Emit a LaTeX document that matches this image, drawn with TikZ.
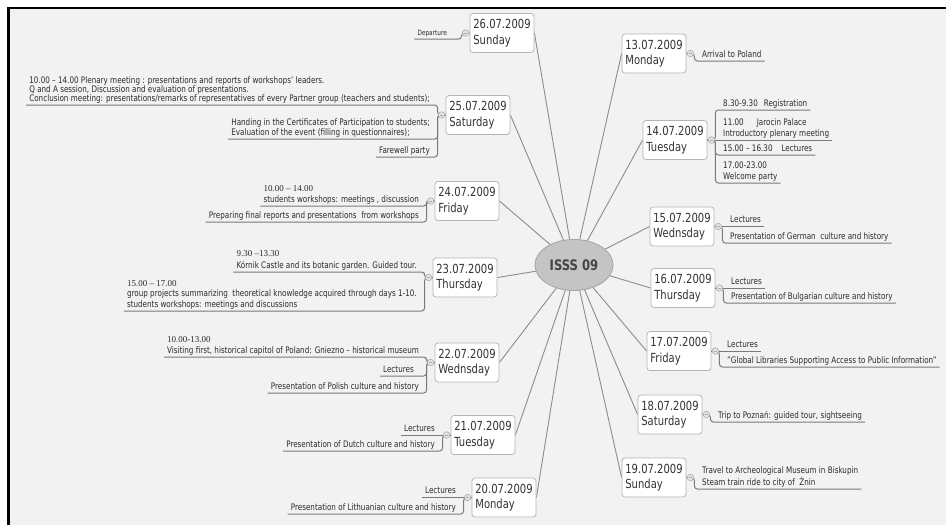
\documentclass[tikz,border=0pt]{standalone}
\usepackage{fontspec}
\setmainfont[FakeStretch=0.8]{DejaVu Sans}
\newfontfamily\tmfont{Liberation Serif}
\usetikzlibrary{shapes.geometric,backgrounds}
\definecolor{bgc}{HTML}{F2F2F2}
\definecolor{boxline}{HTML}{B5B5B5}
\definecolor{datetxt}{HTML}{333333}
\definecolor{itemtxt}{HTML}{2B2B2B}
\definecolor{spokec}{HTML}{8C8C8C}
\definecolor{branchc}{HTML}{7A7A7A}
\definecolor{ellfill}{HTML}{C4C4C4}
\definecolor{elldraw}{HTML}{A6A6A6}
\definecolor{elltxt}{HTML}{444444}
\definecolor{knobfill}{HTML}{E4E4E4}
\definecolor{knobline}{HTML}{ABABAB}
\tikzset{
  datebox/.style={draw=boxline, line width=0.8pt, fill=white, rounded corners=3pt, align=left,
    text=datetxt, font=\fontsize{12.5}{15.5}\selectfont, minimum width=64pt, minimum height=39pt,
    inner xsep=3pt, inner ysep=2pt},
  itemnode/.style={align=left, text=itemtxt, font=\fontsize{9}{10.5}\selectfont,
    inner xsep=3pt, inner ysep=1.5pt, text depth=2pt},
  ritem/.style={itemnode, anchor=south west},
  litem/.style={itemnode, anchor=south east},
  spoke/.style={draw=spokec, line width=0.9pt},
  branch/.style={draw=branchc, line width=1pt, rounded corners=3pt},
  knob/.style={circle, draw=knobline, fill=knobfill, line width=0.6pt, inner sep=0pt,
    minimum size=6.5pt,
    path picture={\draw[knobline, line width=0.6pt]
      ([xshift=-1.6pt]path picture bounding box.center) --
      ([xshift=1.6pt]path picture bounding box.center);}},
  central/.style={ellipse, draw=elldraw, line width=0.9pt, fill=ellfill, minimum width=78pt,
    minimum height=51pt, inner sep=0pt, text=elltxt, font=\fontsize{14.5}{17}\selectfont\bfseries}
}
\begin{document}
\begin{tikzpicture}[x=1pt,y=-1pt]
\useasboundingbox (0,0) rectangle (946,525);
% central topic
\node[central] (c) at (574,265) {ISSS 09};
% date boxes, left
\node[datebox] (d26) at (502,33) {26.07.2009\\Sunday};
\node[datebox] (d25) at (478,115) {25.07.2009\\Saturday};
\node[datebox] (d24) at (467,201) {24.07.2009\\Friday};
\node[datebox] (d23) at (465,277.5) {23.07.2009\\Thursday};
\node[datebox] (d22) at (467,362.5) {22.07.2009\\Wednsday};
\node[datebox] (d21) at (483,435) {21.07.2009\\Tuesday};
\node[datebox] (d20) at (504,497.5) {20.07.2009\\Monday};
% date boxes, right
\node[datebox] (d13) at (654,53.5) {13.07.2009\\Monday};
\node[datebox] (d14) at (675,140) {14.07.2009\\Tuesday};
\node[datebox] (d15) at (682,226.5) {15.07.2009\\Wednsday};
\node[datebox] (d16) at (683,288) {16.07.2009\\Thursday};
\node[datebox] (d17) at (679,351) {17.07.2009\\Friday};
\node[datebox] (d18) at (670,414.5) {18.07.2009\\Saturday};
\node[datebox] (d19) at (654,477.5) {19.07.2009\\Sunday};
% items, right side
\node[ritem] (i13) at (699,61) {Arrival to Poland};
\node[ritem] (i14a) at (720,110) {8.30-9.30\hspace{6pt}Registration};
\node[ritem] (i14b) at (720,140) {11.00\hspace{13pt}Jarocin Palace\\Introductory plenary meeting};
\node[ritem] (i14c) at (720,155) {15.00 – 16.30\hspace{9pt}Lectures};
\node[ritem] (i14d) at (720,183) {17.00-23.00\\Welcome party};
\node[ritem] (i15a) at (727,226.5) {Lectures};
\node[ritem] (i15b) at (727,243) {Presentation of German~ culture and history};
\node[ritem] (i16a) at (728,288) {Lectures};
\node[ritem] (i16b) at (728,303) {Presentation of Bulgarian culture and history};
\node[ritem] (i17a) at (724,351) {Lectures};
\node[ritem] (i17b) at (724,367) {"Global Libraries Supporting Access to Public Information"};
\node[ritem] (i18) at (715,422) {Trip to Poznań: guided tour, sightseeing};
\node[ritem, font=\fontsize{9}{12}\selectfont] (i19) at (699,489) {Travel to Archeological Museum in Biskupin\\Steam train ride to city of~ Żnin};
% items, left side
\node[litem, font=\fontsize{7.2}{9}\selectfont] (i26) at (450,39) {Departure};
\node[litem, font=\fontsize{9}{9}\selectfont] (i25a) at (433,105) {10.00 – 14.00 Plenary meeting : presentations and reports of workshops' leaders.\\Q and A session, Discussion and evaluation of presentations.\\Conclusion meeting: presentations/remarks of representatives of every Partner group (teachers and students);};
\node[litem, font=\fontsize{9}{9.8}\selectfont] (i25b) at (433,139) {Handing in the Certificates of Participation to students;\\Evaluation of the event (filling in questionnaires);};
\node[litem] (i25c) at (433,157) {Farewell party};
\node[litem] (i24a) at (422,206) {{\tmfont 10.00 – 14.00}\\students workshops: meetings , discussion};
\node[litem] (i24b) at (422,222) {Preparing final reports and presentations~ from workshops};
\node[litem, font=\fontsize{9}{11.5}\selectfont] (i23a) at (420,272) {{\tmfont 9.30 –13.30}\\Kórnik Castle and its botanic garden. Guided tour.};
\node[litem] (i23b) at (420,311) {{\tmfont 15.00 – 17.00}\\group projects summarizing~ theoretical knowledge acquired through days 1-10.\\students workshops: meetings and discussions};
\node[litem] (i22a) at (422,357) {{\tmfont 10.00-13.00}\\Visiting first, historical capitol of Poland: Gniezno – historical museum};
\node[litem] (i22b) at (417,376) {Lectures};
\node[litem] (i22c) at (422,393) {Presentation of Polish culture and history};
\node[litem] (i21a) at (438,435) {Lectures};
\node[litem] (i21b) at (438,451) {Presentation of Dutch culture and history};
\node[litem] (i20a) at (459,497.5) {Lectures};
\node[litem] (i20b) at (459,514) {Presentation of Lithuanian culture and history};
% background and spokes
\begin{scope}[on background layer]
  \fill[white] (0,0) rectangle (946,525);
  \fill[bgc] (8,8) rectangle (946,525);
  \draw[line width=3pt] (8,6.5) -- (8,525);
  \draw[line width=2.5pt] (6.5,8) -- (946,8);
  \draw[spoke] (c) -- (d26.east);
  \draw[spoke] (c) -- (d25.east);
  \draw[spoke] (c) -- (d24.east);
  \draw[spoke] (c) -- (d23.east);
  \draw[spoke] (c) -- (d22.east);
  \draw[spoke] (c) -- (d21.east);
  \draw[spoke] (c) -- (d20.east);
  \draw[spoke] (c) -- (d13.west);
  \draw[spoke] (c) -- (d14.west);
  \draw[spoke] (c) -- (d15.west);
  \draw[spoke] (c) -- (d16.west);
  \draw[spoke] (c) -- (d17.west);
  \draw[spoke] (c) -- (d18.west);
  \draw[spoke] (c) -- (d19.west);
\end{scope}
% branches, right
\draw[branch] (d13.east) -- ++(8,0) |- (i13.south east);
\draw[branch] (d14.east) -- ++(8,0) |- (i14a.south east);
\draw[branch] (d14.east) -- (i14b.south east);
\draw[branch] (d14.east) -- ++(8,0) |- (i14c.south east);
\draw[branch] (d14.east) -- ++(8,0) |- (i14d.south east);
\draw[branch] (d15.east) -- (i15a.south east);
\draw[branch] (d15.east) -- ++(8,0) |- (i15b.south east);
\draw[branch] (d16.east) -- (i16a.south east);
\draw[branch] (d16.east) -- ++(8,0) |- (i16b.south east);
\draw[branch] (d17.east) -- (i17a.south east);
\draw[branch] (d17.east) -- ++(8,0) |- (i17b.south east);
\draw[branch] (d18.east) -- ++(8,0) |- (i18.south east);
\draw[branch] (d19.east) -- ++(8,0) |- (i19.south east);
% branches, left
\draw[branch] (d26.west) -- ++(-8,0) |- (i26.south west);
\draw[branch] (d25.west) -- ++(-8,0) |- (i25a.south west);
\draw[branch] (d25.west) -- ++(-8,0) |- (i25b.south west);
\draw[branch] (d25.west) -- ++(-8,0) |- (i25c.south west);
\draw[branch] (d24.west) -- ++(-8,0) |- (i24a.south west);
\draw[branch] (d24.west) -- ++(-8,0) |- (i24b.south west);
\draw[branch] (d23.west) -- ++(-8,0) |- (i23a.south west);
\draw[branch] (d23.west) -- ++(-8,0) |- (i23b.south west);
\draw[branch] (d22.west) -- ++(-8,0) |- (i22a.south west);
\draw[branch] (d22.west) -- ++(-8,0) |- (i22b.south west);
\draw[branch] (d22.west) -- ++(-8,0) |- (i22c.south west);
\draw[branch] (d21.west) -- (i21a.south west);
\draw[branch] (d21.west) -- ++(-8,0) |- (i21b.south west);
\draw[branch] (d20.west) -- (i20a.south west);
\draw[branch] (d20.west) -- ++(-8,0) |- (i20b.south west);
% knobs
\node[knob] (k26) at ([xshift=-4pt]d26.west) {};
\node[knob] (k25) at ([xshift=-4pt]d25.west) {};
\node[knob] (k24) at ([xshift=-4pt]d24.west) {};
\node[knob] (k23) at ([xshift=-4pt]d23.west) {};
\node[knob] (k22) at ([xshift=-4pt]d22.west) {};
\node[knob] (k21) at ([xshift=-4pt]d21.west) {};
\node[knob] (k20) at ([xshift=-4pt]d20.west) {};
\node[knob] (k13) at ([xshift=4pt]d13.east) {};
\node[knob] (k14) at ([xshift=4pt]d14.east) {};
\node[knob] (k15) at ([xshift=4pt]d15.east) {};
\node[knob] (k16) at ([xshift=4pt]d16.east) {};
\node[knob] (k17) at ([xshift=4pt]d17.east) {};
\node[knob] (k18) at ([xshift=4pt]d18.east) {};
\node[knob] (k19) at ([xshift=4pt]d19.east) {};
\end{tikzpicture}
\end{document}
